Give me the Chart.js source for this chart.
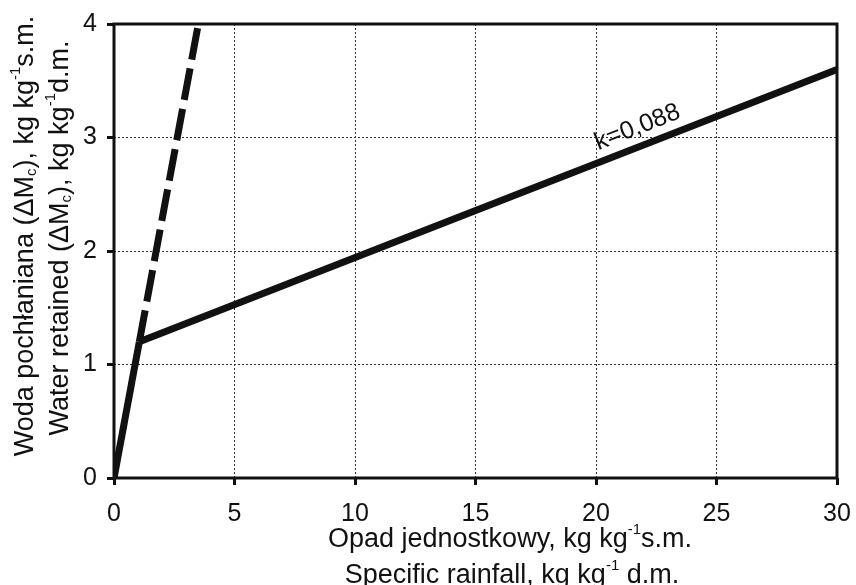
<!DOCTYPE html>
<html>
<head>
<meta charset="utf-8">
<script src="https://cdn.jsdelivr.net/npm/chart.js@4/dist/chart.umd.min.js"></script>
<style>
  body { margin: 0; background: #fff; }
  #wrap { width: 856px; height: 585px; }
</style>
</head>
<body>
<div id="wrap"><canvas id="chart" width="856" height="585"></canvas></div>
<script>
// dane
const steepX = [0, 1.05];
const steepY = [0, 1.2];
const dashedX = [1.05, 3.5];
const dashedY = [1.2, 4];
const slopeX = [1.05, 30];
const slopeY = [1.2, 3.6];
const xTicks = [0, 5, 10, 15, 20, 25, 30];
const yTicks = [0, 1, 2, 3, 4];
const slopeLabel = 'k=0,088';
const labelAtX = 22;

const FONT = '"Liberation Sans", Arial, sans-serif';
const TITLE_SIZE = 27;

function toPoints(xs, ys) {
    return xs.map((x, i) => ({ x: x, y: ys[i] }));
}

// tekst z indeksami górnymi/dolnymi
function richWidth(ctx, parts, size) {
    let w = 0;
    parts.forEach(p => {
        ctx.font = (p.s ? Math.round(size * 0.55) : size) + 'px ' + FONT;
        w += ctx.measureText(p.t).width;
    });
    return w;
}
function drawRich(ctx, parts, size, cx, cy) {
    const w = richWidth(ctx, parts, size);
    let x = cx - w / 2;
    ctx.textBaseline = 'middle';
    ctx.textAlign = 'left';
    parts.forEach(p => {
        let dy = 0;
        if (p.s === 'sup') dy = -size * 0.36;
        if (p.s === 'sub') dy = size * 0.22;
        ctx.font = (p.s ? Math.round(size * 0.55) : size) + 'px ' + FONT;
        ctx.fillText(p.t, x, cy + dy);
        x += ctx.measureText(p.t).width;
    });
}

const yTitle1 = [{t: 'Woda pochłaniana (ΔM'}, {t: 'c', s: 'sub'}, {t: '), kg kg'}, {t: '-1', s: 'sup'}, {t: 's.m.'}];
const yTitle2 = [{t: 'Water retained (ΔM'}, {t: 'c', s: 'sub'}, {t: '), kg kg'}, {t: '-1', s: 'sup'}, {t: 'd.m.'}];
const xTitle1 = [{t: 'Opad jednostkowy, kg kg'}, {t: '-1', s: 'sup'}, {t: 's.m.'}];
const xTitle2 = [{t: 'Specific rainfall, kg kg'}, {t: '-1', s: 'sup'}, {t: ' d.m.'}];

const decor = {
    id: 'decor',
    beforeDatasetsDraw(chart) {
        const ctx = chart.ctx;
        const a = chart.chartArea;
        ctx.save();
        ctx.strokeStyle = '#111';
        ctx.lineWidth = 3;
        ctx.strokeRect(a.left, a.top, a.right - a.left, a.bottom - a.top);
        ctx.restore();
    },
    afterDraw(chart) {
        const ctx = chart.ctx;
        const xs = chart.scales.x, ys = chart.scales.y;
        ctx.save();
        ctx.fillStyle = '#111';
        // tytuły osi X
        drawRich(ctx, xTitle1, TITLE_SIZE, 510, 540);
        drawRich(ctx, xTitle2, TITLE_SIZE, 512, 576);
        // tytuły osi Y
        ctx.save();
        ctx.translate(26, 236);
        ctx.rotate(-Math.PI / 2);
        drawRich(ctx, yTitle1, TITLE_SIZE, 0, 0);
        ctx.restore();
        ctx.save();
        ctx.translate(61, 238);
        ctx.rotate(-Math.PI / 2);
        drawRich(ctx, yTitle2, TITLE_SIZE, 0, 0);
        ctx.restore();
        // etykieta nachylenia
        const x0 = xs.getPixelForValue(slopeX[0]), y0 = ys.getPixelForValue(slopeY[0]);
        const x1 = xs.getPixelForValue(slopeX[1]), y1 = ys.getPixelForValue(slopeY[1]);
        const ang = Math.atan2(y1 - y0, x1 - x0);
        const yv = slopeY[0] + (slopeY[1] - slopeY[0]) * (labelAtX - slopeX[0]) / (slopeX[1] - slopeX[0]);
        ctx.translate(xs.getPixelForValue(labelAtX), ys.getPixelForValue(yv));
        ctx.rotate(ang);
        ctx.font = '25px ' + FONT;
        ctx.textAlign = 'center';
        ctx.textBaseline = 'bottom';
        ctx.fillText(slopeLabel, 0, -6);
        ctx.restore();
    }
};

const lineStyle = { showLine: true, pointRadius: 0, borderColor: '#111', borderWidth: 7, fill: false, borderCapStyle: 'butt', tension: 0 };

new Chart(document.getElementById('chart'), {
    type: 'scatter',
    data: {
        datasets: [
            Object.assign({ label: 'a', data: toPoints(steepX, steepY) }, lineStyle),
            Object.assign({ label: 'b', data: toPoints(dashedX, dashedY), borderDash: [32, 9] }, lineStyle),
            Object.assign({ label: 'c', data: toPoints(slopeX, slopeY) }, lineStyle)
        ]
    },
    options: {
        responsive: false,
        animation: false,
        layout: { padding: { top: 24, right: 19, left: 0, bottom: 0 } },
        plugins: { legend: { display: false }, tooltip: { enabled: false } },
        scales: {
            x: {
                type: 'linear', min: 0, max: 30,
                afterBuildTicks: s => { s.ticks = xTicks.map(v => ({ value: v })); },
                afterFit: s => { s.height = 107; s.paddingLeft = 0; s.paddingRight = 0; },
                ticks: { color: '#111', font: { size: 25, family: FONT }, padding: 14, maxRotation: 0 },
                grid: { color: '#333', lineWidth: 1, tickColor: '#111', tickWidth: 3, tickLength: 7, tickBorderDash: [] },
                border: { display: false, dash: [2, 2] }
            },
            y: {
                type: 'linear', min: 0, max: 4,
                afterBuildTicks: s => { s.ticks = yTicks.map(v => ({ value: v })); },
                afterFit: s => { s.width = 114; s.paddingTop = 0; s.paddingBottom = 0; },
                ticks: { color: '#111', font: { size: 25, family: FONT }, padding: 10 },
                grid: { color: '#333', lineWidth: 1, tickColor: '#111', tickWidth: 3, tickLength: 7, tickBorderDash: [] },
                border: { display: false, dash: [2, 2] }
            }
        }
    },
    plugins: [decor]
});
</script>
</body>
</html>
